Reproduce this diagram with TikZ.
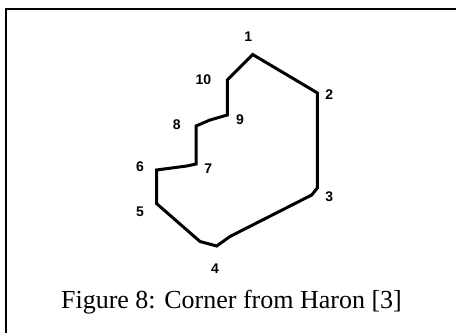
\documentclass[tikz,border=0pt]{standalone}
\usepackage{fontspec}
\setmainfont{Liberation Serif}
\newfontfamily\lblfont{Liberation Sans}
\begin{document}
\begin{tikzpicture}[x=1pt,y=-1pt,
  lbl/.style={font=\lblfont\bfseries\fontsize{14}{14}\selectfont, inner sep=0pt},
  outline/.style={line width=3pt, line join=miter, black},
  frame/.style={line width=2pt, black}]
\useasboundingbox (0,0) rectangle (456,333);
% frame
\draw[frame] (6,333) -- (6,9) -- (456,9);
% corner outline vertices
\coordinate (p1) at (252.7,54.5);
\coordinate (p2a) at (315,91.5);
\coordinate (p2) at (317.3,93);
\coordinate (p3) at (317.3,188);
\coordinate (p3b) at (311.7,195);
\coordinate (p4a) at (230,236.5);
\coordinate (p4) at (216.7,246);
\coordinate (p4b) at (200,241.5);
\coordinate (p5) at (156.5,203.5);
\coordinate (p6) at (156.5,170);
\coordinate (p6b) at (186.7,166);
\coordinate (p7) at (196,164);
\coordinate (p8) at (196,126);
\coordinate (p8b) at (210,120);
\coordinate (p9) at (227.3,115);
\coordinate (p10) at (227.3,80);
\draw[outline] (p1) -- (p2a) -- (p2) -- (p3) -- (p3b) -- (p4a) -- (p4) -- (p4b)
  -- (p5) -- (p6) -- (p6b) -- (p7) -- (p8) -- (p8b) -- (p9) -- (p10) -- cycle;
% labels
\node[lbl] (l1) at (248.3,36.7) {1};
\node[lbl] (l2) at (329.3,95) {2};
\node[lbl] (l3) at (329.3,196.7) {3};
\node[lbl] (l4) at (215,268.3) {4};
\node[lbl] (l5) at (140,211.7) {5};
\node[lbl] (l6) at (140,166.7) {6};
\node[lbl] (l7) at (208.3,168.3) {7};
\node[lbl] (l8) at (176.7,125) {8};
\node[lbl] (l9) at (240,120) {9};
\node[lbl] (l10) at (203.3,80) {10};
% caption
\node[anchor=base, inner sep=0pt, font=\fontsize{26}{26}\selectfont] (cap) at (231.5,308.3) {Figure 8: Corner from Haron [3]};
\end{tikzpicture}
\end{document}
